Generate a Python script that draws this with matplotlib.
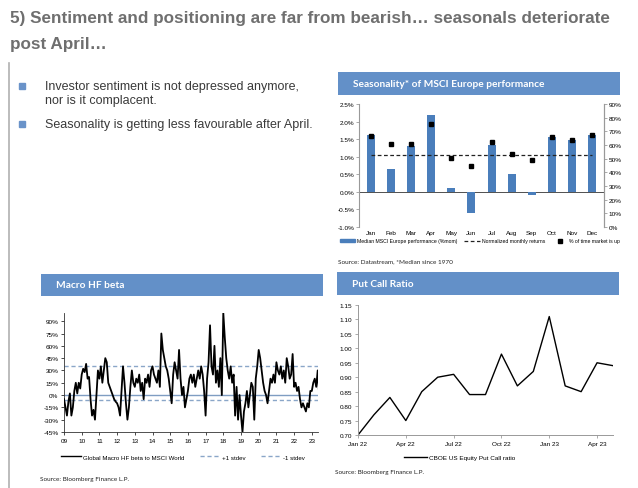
import matplotlib
matplotlib.use("Agg")
import matplotlib.pyplot as plt
from matplotlib.patches import Rectangle
from matplotlib.lines import Line2D
import numpy as np

W, H = 638, 489

# ---------------- data ----------------
months = ["Jan", "Feb", "Mar", "Apr", "May", "Jun", "Jul", "Aug", "Sep", "Oct", "Nov", "Dec"]
median_perf = [1.63, 0.66, 1.31, 2.20, 0.12, -0.60, 1.34, 0.50, -0.09, 1.56, 1.47, 1.61]
pct_up = [66.7, 60.8, 60.8, 75.7, 50.6, 45.0, 62.0, 53.5, 48.9, 65.7, 63.7, 67.6]
normalized_return = 1.05

hf_start_year = 2009
hf_beta = [
    -5, -15, -25, -8, 2, -25, -15, 5, 15, 2, 15, 8,          # 2009
    25, 32, 28, 38, 20, 22, -5, -25, -18, -30, 0, 30,        # 2010
    20, 35, 15, 30, 45, 40, 15, 10, 5, 0, -5, -8,            # 2011
    -10, -15, -25, 5, 35, 15, -10, -30, -15, 10, 30, 15,     # 2012
    10, 20, 15, 25, 5, 15, -5, 20, 15, 25, 10, 30,           # 2013
    35, 25, 20, 15, 30, 10, 75, 55, 45, 35, 30, 20,          # 2014
    5, -10, 25, 40, 30, 20, 55, 20, 0, 10, -15, -5,          # 2015
    5, 20, 25, 15, 25, 10, 20, 30, 20, 35, 25, 5,            # 2016
    -25, 20, 40, 85, 35, 25, 60, 15, 30, 10, 45, 0,          # 2017
    100, 70, 45, 30, 20, 35, 15, 25, -25, 10, -30, 0,        # 2018
    -25, -45, -20, -10, 5, -15, 0, 15, 10, -30, 20, 35,      # 2019
    55, 45, 30, 15, 5, 0, -10, 5, 20, 15, 25, 15,            # 2020
    40, 30, 25, 35, 20, 30, 15, 45, 35, 20, 25, 50,          # 2021
    10, 15, 5, 10, -5, -15, -10, -15, -20, -10, -15, 5,      # 2022
    5, 15, 20, 10, 30, 0,                                    # 2023
]
hf_plus1 = 36
hf_minus1 = -6
hf_years = ["09", "10", "11", "12", "13", "14", "15", "16", "17", "18", "19", "20", "21", "22", "23"]

pc_labels = ["Jan 22", "Apr 22", "Jul 22", "Oct 22", "Jan 23", "Apr 23"]
put_call = [0.70, 0.77, 0.83, 0.75, 0.85, 0.90, 0.91, 0.84, 0.84, 0.98, 0.87, 0.92,
            1.11, 0.87, 0.85, 0.95, 0.94]

# ---------------- helpers ----------------
def rect(x0, y0, x1, y1):
    return [x0 / W, 1 - y1 / H, (x1 - x0) / W, (y1 - y0) / H]

fig = plt.figure(figsize=(W / 100, H / 100), dpi=100)
fig.patch.set_facecolor("white")

def ftext(x, y, s, **kw):
    fig.text(x / W, 1 - y / H, s, **kw)

BLUE_HDR = "#6390c8"
BAR_BLUE = "#4a7ebb"
TXT = "#3a3a3a"
HEAD_FONT = ["Lato", "DejaVu Sans"]
BODY_FONT = ["Liberation Sans", "DejaVu Sans"]

# Title
ftext(10, 19, "5) Sentiment and positioning are far from bearish\u2026 seasonals deteriorate",
      fontsize=12.3, fontweight="bold", color="#6f6f6f", family=BODY_FONT, va="center")
ftext(10, 44, "post April\u2026", fontsize=12.3, fontweight="bold", color="#6f6f6f",
      family=BODY_FONT, va="center")

# left vertical rule
fig.add_artist(Line2D([8.5 / W, 8.5 / W], [1 - 64 / H, 0], color="#b0b0b0", lw=1.2))

# bullets
for yb in (87, 125):
    fig.add_artist(Rectangle(((19) / W, 1 - (yb + 3) / H), 6 / W, 6 / H, color="#6a93c9"))
ftext(45, 87, "Investor sentiment is not depressed anymore,", fontsize=9.0, color=TXT,
      family=BODY_FONT, va="center")
ftext(45, 101, "nor is it complacent.", fontsize=9.0, color=TXT, family=BODY_FONT, va="center")
ftext(45, 125, "Seasonality is getting less favourable after April.", fontsize=9.0, color=TXT,
      family=BODY_FONT, va="center")

# header boxes
def header(x0, y0, x1, y1, title, tx):
    fig.add_artist(Rectangle((x0 / W, 1 - y1 / H), (x1 - x0) / W, (y1 - y0) / H,
                             color=BLUE_HDR, lw=0))
    ftext(tx, (y0 + y1) / 2, title, fontsize=7.3, fontweight="bold", color="white",
          family=HEAD_FONT, va="center")

header(338, 73, 620, 96, "Seasonality* of MSCI Europe performance", 353)
header(41, 275, 323, 297, "Macro HF beta", 56)
header(337, 273, 619, 296, "Put Call Ratio", 352)

TICK_FS = 4.6

# ---------------- Seasonality ----------------
ax1 = fig.add_axes(rect(359, 105, 604, 228))
x = np.arange(12)
ax1.bar(x, median_perf, width=0.4, color=BAR_BLUE, zorder=2)
ax1.plot([0, 11], [normalized_return] * 2, color="#222222", ls=(0, (3, 2)), lw=0.9, zorder=3)
ax1.set_ylim(-1.0, 2.5)
ax1.set_xlim(-0.6, 11.6)
ax1.set_yticks(np.arange(-1.0, 2.51, 0.5))
ax1.set_yticklabels([f"{v:.1f}%" for v in np.arange(-1.0, 2.51, 0.5)], fontsize=TICK_FS,
                    family=BODY_FONT)
ax1.axhline(0, color="#333333", lw=0.6, zorder=1)
ax1.set_xticks(x)
ax1.set_xticklabels(months, fontsize=TICK_FS, family=BODY_FONT)
ax1.tick_params(axis="x", length=0, pad=2)
ax1.tick_params(axis="y", length=2, width=0.5, color="#888888", pad=1.5)
for s in ("top", "bottom"):
    ax1.spines[s].set_visible(False)
for s in ("left", "right"):
    ax1.spines[s].set_color("#999999")
    ax1.spines[s].set_linewidth(0.8)
ax1r = ax1.twinx()
ax1r.plot(x, pct_up, ls="none", marker="s", ms=3.2, color="black", zorder=4)
ax1r.set_ylim(0, 90)
ax1r.set_yticks(np.arange(0, 91, 10))
ax1r.set_yticklabels([f"{v}%" for v in range(0, 91, 10)], fontsize=TICK_FS, family=BODY_FONT)
ax1r.tick_params(axis="y", length=2, width=0.5, color="#888888", pad=1.5)
for s in ("top", "bottom", "left"):
    ax1r.spines[s].set_visible(False)
ax1r.spines["right"].set_color("#999999")
ax1r.spines["right"].set_linewidth(0.8)

leg_handles = [Rectangle((0, 0), 1, 1, color=BAR_BLUE),
               Line2D([], [], color="#222222", ls=(0, (3, 2)), lw=0.9),
               Line2D([], [], ls="none", marker="s", ms=3, color="black")]
fig.legend(leg_handles, ["Median MSCI Europe performance (%mom)", "Normalized monthly returns",
                         "% of time market is up"],
           loc="center", bbox_to_anchor=(480 / W, 1 - 242 / H), ncol=3, frameon=False,
           handlelength=3.0, handleheight=0.6, columnspacing=1.3, handletextpad=0.4,
           prop={"family": BODY_FONT, "size": 3.7})
ftext(338, 262, "Source: Datastream, *Median since 1970", fontsize=4.6, color="#222222",
      family=HEAD_FONT, va="center")

# ---------------- Macro HF beta ----------------
ax2 = fig.add_axes(rect(64, 314, 318, 433))
for s in ("top", "right"):
    ax2.spines[s].set_visible(False)
ax2.spines["bottom"].set_position(("data", -45))
for s in ("left", "bottom"):
    ax2.spines[s].set_linewidth(0.6)
    ax2.spines[s].set_color("#333333")
t = hf_start_year + np.arange(len(hf_beta)) / 12.0
ax2.axhline(0, color="#7f9dc2", lw=1.0, zorder=1)
ax2.axhline(hf_plus1, color="#8aa6c8", lw=1.0, ls=(0, (3, 2)), zorder=1)
ax2.axhline(hf_minus1, color="#8aa6c8", lw=1.0, ls=(0, (3, 2)), zorder=1)
ax2.plot(t, hf_beta, color="black", lw=1.3, zorder=3)
ax2.set_xlim(2009, 2023.35)
ax2.set_ylim(-45, 100)
ax2.set_yticks(np.arange(-45, 91, 15))
ax2.set_yticklabels([f"{v}%" for v in range(-45, 91, 15)], fontsize=TICK_FS, family=BODY_FONT)
ax2.set_xticks(np.arange(2009, 2024))
ax2.set_xticklabels(hf_years, fontsize=TICK_FS, family=BODY_FONT)
ax2.tick_params(length=2, width=0.5, pad=2)

leg2 = [Line2D([], [], color="black", lw=1.0),
        Line2D([], [], color="#8aa6c8", lw=1.0, ls=(0, (3, 2))),
        Line2D([], [], color="#8aa6c8", lw=1.0, ls=(0, (3, 2)))]
fig.legend(leg2, ["Global Macro HF beta to MSCI World", "+1 stdev", "-1 stdev"],
           loc="center", bbox_to_anchor=(183 / W, 1 - 458 / H), ncol=3, frameon=False,
           handlelength=3.2, columnspacing=2.5, handletextpad=0.4,
           prop={"family": BODY_FONT, "size": 4.4})
ftext(40, 480, "Source: Bloomberg Finance L.P.", fontsize=4.6, color="#222222",
      family=HEAD_FONT, va="center")

# ---------------- Put Call ----------------
ax3 = fig.add_axes(rect(358, 306, 613, 436))
xi = np.arange(len(put_call))
ax3.plot(xi, put_call, color="black", lw=1.0)
ax3.set_xlim(0, len(put_call) - 1)
ax3.set_ylim(0.70, 1.15)
yt = np.round(np.arange(0.70, 1.151, 0.05), 2)
ax3.set_yticks(yt)
ax3.set_yticklabels([f"{v:.2f}" for v in yt], fontsize=TICK_FS, family=BODY_FONT)
ax3.set_xticks([0, 3, 6, 9, 12, 15])
ax3.set_xticklabels(pc_labels, fontsize=TICK_FS, family=BODY_FONT)
ax3.tick_params(length=2, width=0.5, pad=2, color="#888888")
for s in ("top", "right"):
    ax3.spines[s].set_visible(False)
for s in ("left", "bottom"):
    ax3.spines[s].set_linewidth(0.7)
    ax3.spines[s].set_color("#999999")
fig.legend([Line2D([], [], color="black", lw=1.0)], ["CBOE US Equity Put Call ratio"],
           loc="center", bbox_to_anchor=(460 / W, 1 - 458 / H), frameon=False,
           handlelength=3.5, handletextpad=0.4, prop={"family": BODY_FONT, "size": 4.6})
ftext(335, 473, "Source: Bloomberg Finance L.P.", fontsize=4.6, color="#222222",
      family=HEAD_FONT, va="center")

fig.savefig("out.png", dpi=100, facecolor="white")
